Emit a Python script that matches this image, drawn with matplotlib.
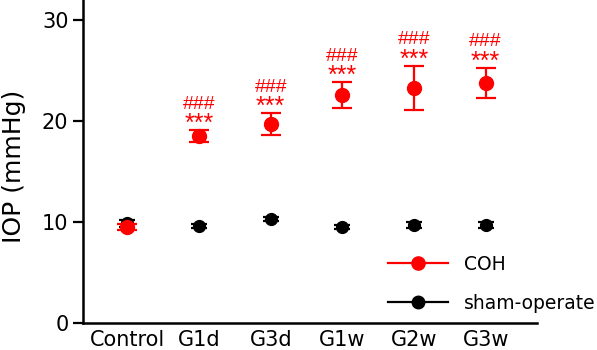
import matplotlib
matplotlib.use("Agg")
import matplotlib.pyplot as plt
from matplotlib.lines import Line2D

plt.rcParams["font.family"] = ["DejaVu Sans"]

groups = ["Control", "G1d", "G3d", "G1w", "G2w", "G3w"]
coh_mean = [9.5, 18.5, 19.7, 22.6, 23.3, 23.8]
coh_err = [0.3, 0.6, 1.1, 1.3, 2.2, 1.5]
sham_mean = [9.9, 9.6, 10.3, 9.5, 9.7, 9.7]
sham_err = [0.35, 0.2, 0.2, 0.2, 0.3, 0.3]
sig_stars = ["", "***", "***", "***", "***", "***"]
sig_hash = ["", "###", "###", "###", "###", "###"]

RED = "#ff0000"

fig, ax = plt.subplots(figsize=(5.97, 3.5), dpi=100)
x = list(range(len(groups)))

ax.errorbar(x, sham_mean, yerr=sham_err, fmt="o", color="black", ms=8.5,
            capsize=6, elinewidth=1.6, capthick=1.6, zorder=3)
ax.errorbar(x, coh_mean, yerr=coh_err, fmt="o", color=RED, ms=10,
            capsize=7, elinewidth=1.6, capthick=1.6, zorder=4)

# significance marks above the COH error bars
for i in x:
    if sig_stars[i]:
        top = coh_mean[i] + coh_err[i]
        ax.text(i, top - 0.1, sig_stars[i], color=RED, fontsize=18,
                ha="center", va="baseline", family="Liberation Sans")
        ax.text(i, top + 2.1, sig_hash[i], color=RED, fontsize=14,
                ha="center", va="baseline", family="Liberation Sans")

ax.set_xlim(-0.62, 5.72)
ax.set_ylim(0, 32)
ax.set_yticks([0, 10, 20, 30])
ax.set_xticks(x)
ax.set_xticklabels(groups)
ax.tick_params(axis="x", length=0, labelsize=15, pad=5)
ax.tick_params(axis="y", length=7, width=1.6, labelsize=15, pad=3.5)
ax.set_ylabel("IOP (mmHg)", fontsize=18)
ax.yaxis.set_label_coords(-0.125, 0.485)
for s in ("top", "right"):
    ax.spines[s].set_visible(False)
for s in ("left", "bottom"):
    ax.spines[s].set_linewidth(1.8)

handles = [
    Line2D([], [], color=RED, marker="o", ms=9.5, lw=1.6),
    Line2D([], [], color="black", marker="o", ms=9, lw=1.6),
]
fig.legend(handles, ["COH", "sham-operate"], loc="upper left",
           bbox_to_anchor=(388 / 597, 1 - 255 / 350), frameon=False,
           fontsize=13.5, handlelength=3.2, handletextpad=0.85,
           labelspacing=1.05, borderpad=0, borderaxespad=0)

fig.subplots_adjust(left=0.139, right=0.9, top=1.0, bottom=0.077)
fig.savefig("out.png")
